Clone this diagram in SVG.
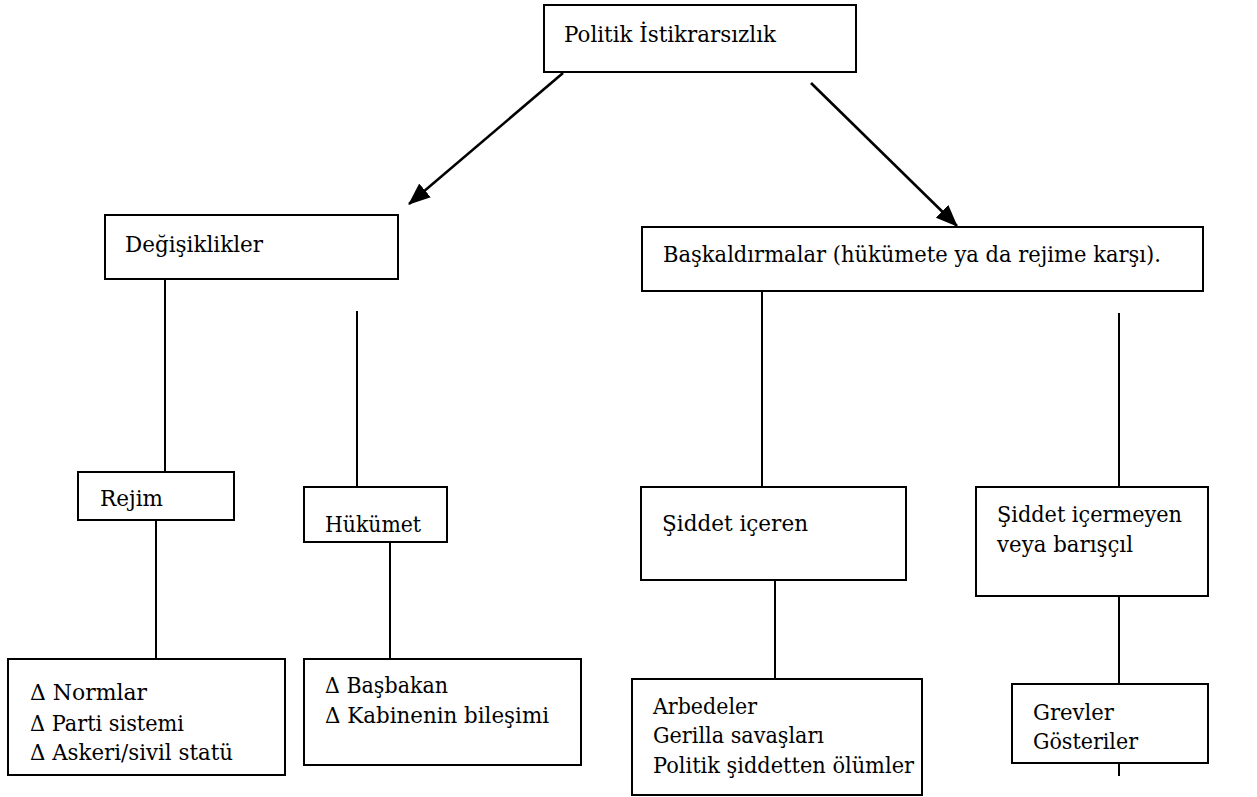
<svg xmlns="http://www.w3.org/2000/svg" width="1257" height="797" viewBox="0 0 1257 797">
<style>
.box{fill:#fff;stroke:#000;stroke-width:2}
.ln{stroke:#000;stroke-width:2;fill:none}
.ar{stroke:#000;stroke-width:2.6;fill:none}
</style>
<defs>
<marker id="ah" markerWidth="22" markerHeight="18" refX="21" refY="9" orient="auto" markerUnits="userSpaceOnUse" viewBox="0 0 22 18">
<path d="M0,0 L22,9 L0,18 z" fill="#000"/>
</marker>
</defs>
<rect width="1257" height="797" fill="#fff"/>
<g id="connectors">
<line class="ar" x1="563" y1="73" x2="409" y2="204" marker-end="url(#ah)"/>
<line class="ar" x1="811" y1="83" x2="957" y2="226" marker-end="url(#ah)"/>
<line class="ln" x1="165" y1="279" x2="165" y2="472"/>
<line class="ln" x1="357" y1="311" x2="357" y2="487"/>
<line class="ln" x1="156" y1="505" x2="156" y2="659"/>
<line class="ln" x1="390" y1="541" x2="390" y2="659"/>
<line class="ln" x1="762" y1="291" x2="762" y2="487"/>
<line class="ln" x1="1119" y1="313" x2="1119" y2="487"/>
<line class="ln" x1="775" y1="580" x2="775" y2="679"/>
<line class="ln" x1="1119" y1="596" x2="1119" y2="684"/>
<line class="ln" x1="1119" y1="763" x2="1119" y2="776"/>
</g>
<g font-family="DejaVu Serif, Liberation Serif, serif" font-size="23" fill="#000" lengthAdjust="spacingAndGlyphs">
<g id="n-politik"><rect class="box" x="544" y="5" width="312" height="67"/><text x="564" y="42" textLength="212" lengthAdjust="spacingAndGlyphs">Politik İstikrarsızlık</text></g>
<g id="n-degisiklikler"><rect class="box" x="105" y="215" width="293" height="64"/><text x="125" y="252" textLength="138" lengthAdjust="spacingAndGlyphs">Değişiklikler</text></g>
<g id="n-baskaldirmalar"><rect class="box" x="642" y="227" width="561" height="64"/><text x="663" y="262" textLength="498" lengthAdjust="spacingAndGlyphs">Başkaldırmalar (hükümete ya da rejime karşı).</text></g>
<g id="n-rejim"><rect class="box" x="78" y="472" width="156" height="48"/><text x="100" y="506" textLength="63" lengthAdjust="spacingAndGlyphs">Rejim</text></g>
<g id="n-hukumet"><rect class="box" x="304" y="487" width="143" height="55"/><text x="325" y="532" textLength="96" lengthAdjust="spacingAndGlyphs">Hükümet</text></g>
<g id="n-siddet"><rect class="box" x="641" y="487" width="265" height="93"/><text x="662" y="531" textLength="146" lengthAdjust="spacingAndGlyphs">Şiddet içeren</text></g>
<g id="n-siddetsiz"><rect class="box" x="976" y="487" width="232" height="109"/><text x="997" y="522" textLength="185" lengthAdjust="spacingAndGlyphs">Şiddet içermeyen</text><text x="997" y="552" textLength="136" lengthAdjust="spacingAndGlyphs">veya barışçıl</text></g>
<g id="n-rejim-alt"><rect class="box" x="8" y="659" width="277" height="116"/><text x="30" y="700" textLength="117" lengthAdjust="spacingAndGlyphs">Δ Normlar</text><text x="30" y="731" textLength="154" lengthAdjust="spacingAndGlyphs">Δ Parti sistemi</text><text x="30" y="760" textLength="203" lengthAdjust="spacingAndGlyphs">Δ Askeri/sivil statü</text></g>
<g id="n-hukumet-alt"><rect class="box" x="304" y="659" width="277" height="106"/><text x="325" y="693" textLength="123" lengthAdjust="spacingAndGlyphs">Δ Başbakan</text><text x="325" y="723" textLength="224" lengthAdjust="spacingAndGlyphs">Δ Kabinenin bileşimi</text></g>
<g id="n-siddet-alt"><rect class="box" x="632" y="679" width="290" height="116"/><text x="653" y="714" textLength="104" lengthAdjust="spacingAndGlyphs">Arbedeler</text><text x="653" y="743" textLength="171" lengthAdjust="spacingAndGlyphs">Gerilla savaşları</text><text x="653" y="773" textLength="261" lengthAdjust="spacingAndGlyphs">Politik şiddetten ölümler</text></g>
<g id="n-siddetsiz-alt"><rect class="box" x="1012" y="684" width="196" height="79"/><text x="1033" y="720" textLength="81" lengthAdjust="spacingAndGlyphs">Grevler</text><text x="1033" y="749" textLength="105" lengthAdjust="spacingAndGlyphs">Gösteriler</text></g>
</g>
</svg>
